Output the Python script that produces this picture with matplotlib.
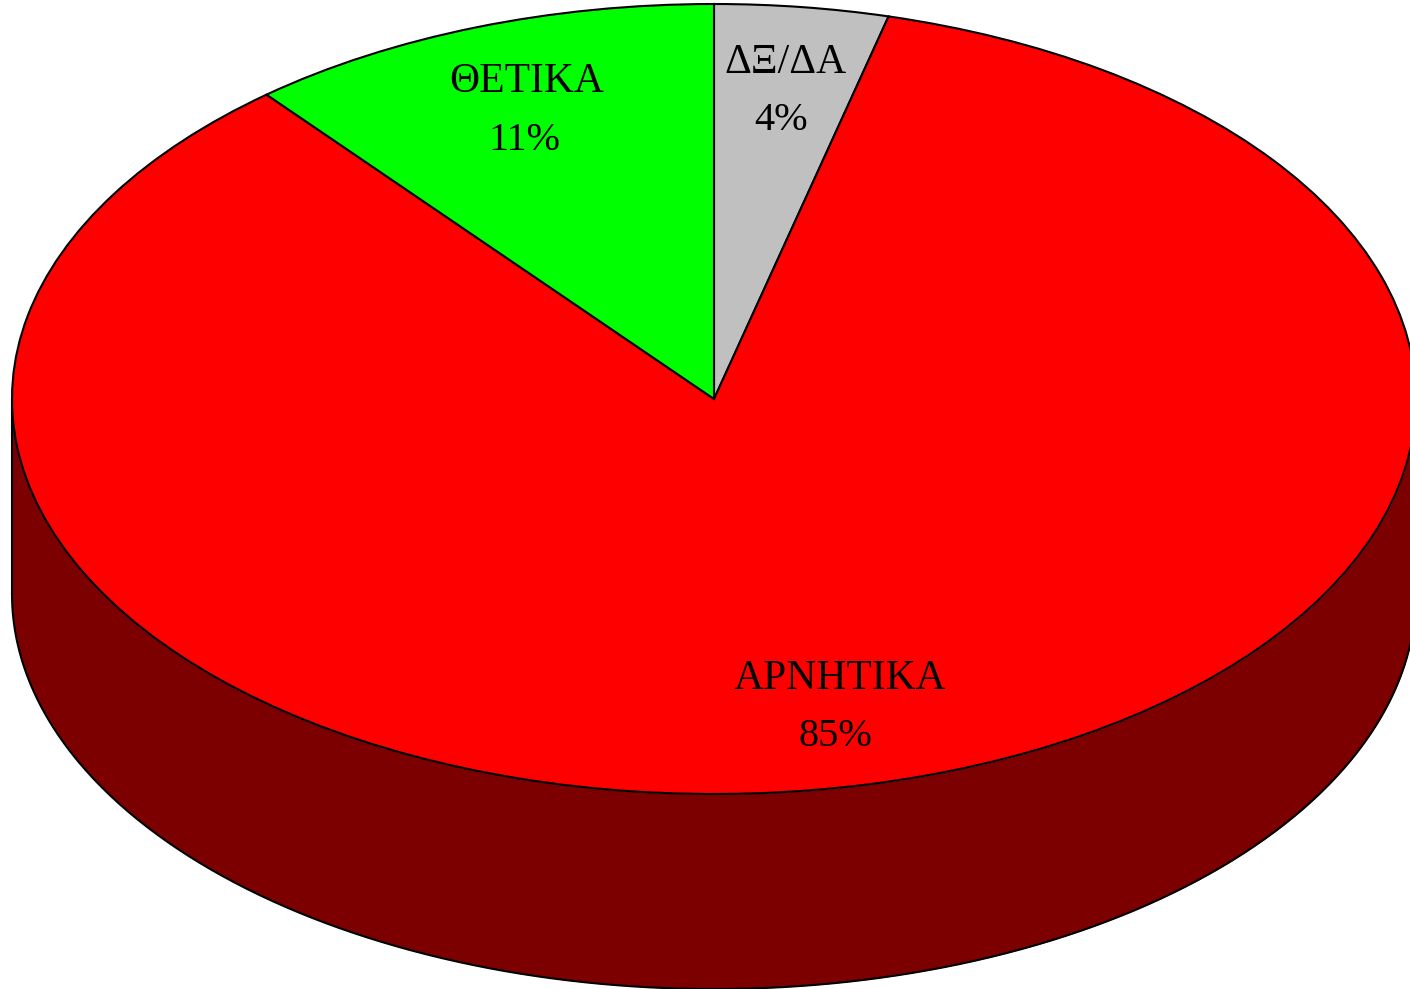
import numpy as np
import matplotlib
matplotlib.use("Agg")
import matplotlib.pyplot as plt

labels = ["ΔΞ/ΔΑ", "ΑΡΝΗΤΙΚΑ", "ΘΕΤΙΚΑ"]
values = [4, 85, 11]
colors = ["#C0C0C0", "#FF0000", "#00FF00"]
side_color = "#7C0000"

W, H = 1410, 989
cx, cy, rx, ry, depth = 714, 399, 702, 395, 195
name_px = [(785, 63), (840, 679), (527, 82)]
pct_px = [(781, 121), (835, 737), (524, 140)]

plt.rcParams["font.family"] = ["Liberation Serif", "DejaVu Serif"]
fig = plt.figure(figsize=(W / 100, H / 100), dpi=100)
ax = fig.add_axes([0, 0, 1, 1])

# Side wall: lower half of the ellipse extruded downward
t = np.linspace(np.pi, 2 * np.pi, 400)
ex = np.cos(t)
ey = np.sin(t)
d = depth / ry
ax.fill_between(ex, ey, ey - d, color=side_color, lw=0, zorder=1)
ax.plot(ex, ey - d, color="black", lw=1.5, zorder=2)
ax.plot([-1, -1], [0, -d], color="black", lw=1.5, zorder=2)
ax.plot([1, 1], [0, -d], color="black", lw=1.5, zorder=2)

# Top face
wedges, _ = ax.pie(values, colors=colors, startangle=90, counterclock=False,
                   radius=1, center=(0, 0), frame=True,
                   wedgeprops=dict(edgecolor="black", linewidth=1.5))
for w in wedges:
    w.set_zorder(3)

ax.set_aspect("auto")
ax.set_xlim((0 - cx) / rx, (W - cx) / rx)
ax.set_ylim((cy - H) / ry, cy / ry)
ax.axis("off")

for lab, val, (nx, ny), (px, py) in zip(labels, values, name_px, pct_px):
    ax.text(nx / W, 1 - ny / H, lab, transform=ax.transAxes,
            ha="center", va="center", fontsize=30, color="black", zorder=5)
    ax.text(px / W, 1 - py / H, f"{val}%", transform=ax.transAxes,
            ha="center", va="center", fontsize=29, color="black", zorder=5)

fig.savefig("out.png", dpi=100)
